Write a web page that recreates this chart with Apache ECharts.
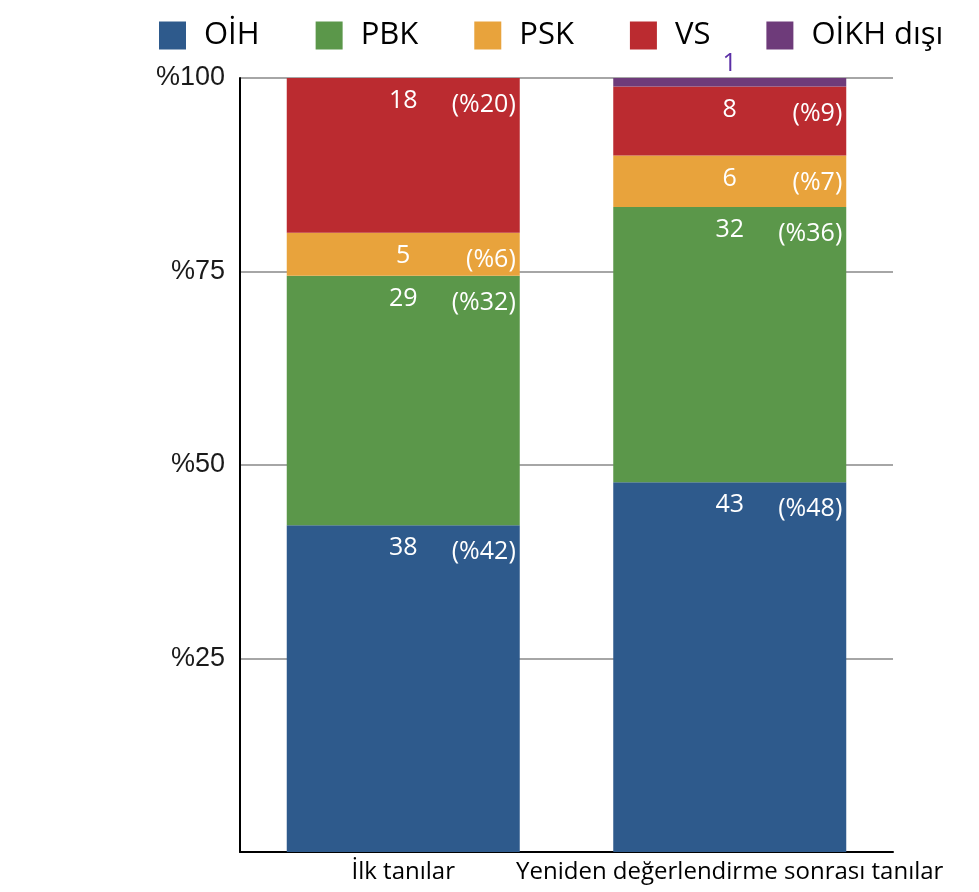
<!DOCTYPE html>
<html>
<head>
<meta charset="utf-8">
<script src="https://cdn.jsdelivr.net/npm/echarts@6/dist/echarts.min.js"></script>
<style>html,body{margin:0;padding:0;background:#fff}#c{width:979px;height:892px}</style>
</head>
<body>
<div id="c"></div>
<script>
const categories = ['İlk tanılar', 'Yeniden değerlendirme sonrası tanılar'];
const seriesNames = ['OİH', 'PBK', 'PSK', 'VS', 'OİKH dışı'];
const oih = [38, 43];
const pbk = [29, 32];
const psk = [5, 6];
const vs = [18, 8];
const oikhDisi = [0, 1];
const yTicks = [0, 25, 50, 75, 100];
const colors = ['#2E5A8C', '#5B974A', '#E8A33C', '#BB2B30', '#6E3B7A'];

const counts = [oih, pbk, psk, vs, oikhDisi];
const totals = categories.map((_, i) => counts.reduce((s, arr) => s + arr[i], 0));
const pct = counts.map(arr => arr.map((v, i) => v / totals[i] * 100));

const labelFont = 'Open Sans';
const series = [];
seriesNames.forEach((name, k) => {
  const isLast = k === seriesNames.length - 1;
  series.push({
    name: name,
    type: 'bar',
    stack: 'main',
    barWidth: 233,
    barGap: '-100%',
    itemStyle: { color: colors[k] },
    data: pct[k].map((p, i) => ({ value: p, count: counts[k][i] })),
    label: {
      show: true,
      position: isLast ? 'top' : 'insideTop',
      distance: isLast ? 1 : 10,
      color: isLast ? '#5B2FA6' : '#ffffff',
      fontFamily: labelFont,
      fontWeight: isLast ? 400 : 500,
      fontSize: 25,
      lineHeight: 26,
      formatter: (p) => p.data.count ? String(p.data.count) : ''
    },
    emphasis: { disabled: true }
  });
});
seriesNames.forEach((name, k) => {
  const isLast = k === seriesNames.length - 1;
  series.push({
    name: name + ' %',
    type: 'bar',
    stack: 'pct',
    barWidth: 233,
    barGap: '-100%',
    itemStyle: { color: 'rgba(0,0,0,0)' },
    data: pct[k].map((p, i) => ({ value: p, count: counts[k][i] })),
    label: {
      show: !isLast,
      position: 'insideTopRight',
      distance: 4,
      offset: [0, 10],
      color: '#ffffff',
      fontFamily: labelFont,
      fontWeight: 500,
      fontSize: 25,
      lineHeight: 26,
      formatter: (p) => p.data.count ? '(%' + Math.round(p.value) + ')' : ''
    },
    emphasis: { disabled: true },
    silent: true
  });
});

const chart = echarts.init(document.getElementById('c'), null, { renderer: 'canvas' });
chart.setOption({
  animation: false,
  backgroundColor: '#ffffff',
  color: colors,
  legend: {
    data: seriesNames,
    left: 154,
    top: 15,
    itemWidth: 27,
    itemHeight: 28,
    itemGap: 56,
    icon: 'rect',
    textStyle: { fontFamily: labelFont, fontSize: 31, color: '#000', padding: [0, 0, 0, 13] }
  },
  grid: { left: 240, right: 86, top: 78, bottom: 40, containLabel: false },
  xAxis: {
    type: 'category',
    data: categories,
    axisLine: { lineStyle: { color: '#000', width: 2 } },
    axisTick: { show: false },
    axisLabel: { interval: 0, fontFamily: labelFont, fontSize: 24, color: '#000', margin: 8 }
  },
  yAxis: {
    type: 'value',
    min: yTicks[0],
    max: yTicks[yTicks.length - 1],
    interval: yTicks[1] - yTicks[0],
    axisLine: { show: true, lineStyle: { color: '#000', width: 2 } },
    axisTick: { show: false },
    splitLine: { lineStyle: { color: '#A6A6A6', width: 2 } },
    axisLabel: {
      fontFamily: 'Liberation Sans',
      fontSize: 27,
      color: '#1a1a1a',
      margin: 15,
      formatter: (v) => v === 0 ? '' : '%' + v
    }
  },
  series: series
});
</script>
</body>
</html>
